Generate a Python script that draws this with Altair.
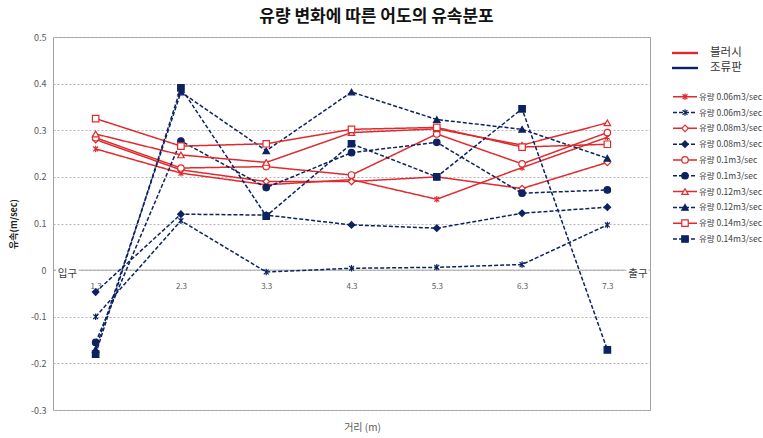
import altair as alt
import pandas as pd

# ---------------- data ----------------
dist = ["1.3", "2.3", "3.3", "4.3", "5.3", "6.3", "7.3"]

# 블러시 (red, solid)
blush_006 = [0.260, 0.208, 0.183, 0.194, 0.152, 0.220, 0.285]
blush_008 = [0.280, 0.215, 0.190, 0.190, 0.200, 0.175, 0.231]
blush_010 = [0.284, 0.219, 0.222, 0.204, 0.292, 0.228, 0.295]
blush_012 = [0.292, 0.247, 0.231, 0.295, 0.303, 0.268, 0.316]
blush_014 = [0.325, 0.266, 0.271, 0.302, 0.306, 0.264, 0.270]

# 조류판 (navy, dashed)
plate_006 = [-0.100, 0.106, -0.004, 0.004, 0.006, 0.012, 0.097]
plate_008 = [-0.047, 0.120, 0.118, 0.097, 0.090, 0.122, 0.135]
plate_010 = [-0.155, 0.277, 0.177, 0.252, 0.274, 0.165, 0.172]
plate_012 = [-0.170, 0.382, 0.256, 0.382, 0.323, 0.302, 0.240]
plate_014 = [-0.180, 0.391, 0.116, 0.271, 0.200, 0.346, -0.171]

series_ids = ["r006", "b006", "r008", "b008", "r010", "b010", "r012", "b012", "r014", "b014"]
series_labels = ["유량 0.06m3/sec", "유량 0.06m3/sec", "유량 0.08m3/sec", "유량 0.08m3/sec",
                 "유량 0.1m3/sec", "유량 0.1m3/sec", "유량 0.12m3/sec", "유량 0.12m3/sec",
                 "유량 0.14m3/sec", "유량 0.14m3/sec"]
series_values = [blush_006, plate_006, blush_008, plate_008, blush_010, plate_010,
                 blush_012, plate_012, blush_014, plate_014]
groups = ["블러시", "조류판"]
end_labels = ["입구", "출구"]

# ---------------- styles ----------------
RED = "#E02A2E"
NAVY = "#0D2260"
STAR = "M-0.75,-0.75L0.75,0.75M-0.75,0.75L0.75,-0.75M0,-1L0,1"
FONT = "Noto Sans CJK KR"

rows = []
for sid, vals in zip(series_ids, series_values):
    for d, v in zip(dist, vals):
        rows.append({"sid": sid, "dist": d, "value": v})
df = pd.DataFrame(rows)
legend_df = pd.DataFrame({"sid": series_ids, "label": series_labels})
group_df = pd.DataFrame({"group": groups})
end_df = pd.DataFrame({"t": end_labels, "v": [0, 0]})

color_scale = alt.Scale(domain=series_ids, range=[RED, NAVY] * 5)
dash_scale = alt.Scale(domain=series_ids, range=[[1, 0], [4, 2]] * 5)
shape_scale = alt.Scale(domain=series_ids, range=[STAR, STAR, "diamond", "diamond", "circle", "circle",
                                                   "triangle-up", "triangle-up", "square", "square"])
fill_scale = alt.Scale(domain=series_ids, range=["transparent", "transparent", "white", NAVY, "white", NAVY,
                                                  "white", NAVY, "white", NAVY])
size_scale = alt.Scale(domain=series_ids, range=[42, 42, 24, 24, 36, 36, 38, 38, 44, 44])

W, H = 597, 373
x_scale = alt.Scale(domain=dist, type="point", padding=0.5)
y_scale = alt.Scale(domain=[-0.3, 0.5], nice=False, zero=False)

x_axis = alt.Axis(title="거리 (m)", labelAngle=0, labelPadding=-128, ticks=False, tickSize=0,
                  domain=False, grid=False, labelFontSize=8, labelColor="#595959",
                  titleFontSize=10, titleFontWeight="normal", titleColor="#595959",
                  titleX=309, titleY=12)
y_axis = alt.Axis(values=[-0.3, -0.2, -0.1, 0, 0.1, 0.2, 0.3, 0.4, 0.5],
                  labelExpr="toString(round(datum.value*10)/10)",
                  grid=True, gridDash=[2, 2], gridColor="#B4B4B4", ticks=False, domain=False,
                  labelFontSize=9, labelColor="#595959", labelPadding=7,
                  title="유속(m/sec)", titleFontSize=9, titleFontWeight="bold", titleColor="#222222",
                  titleX=-40, titleY=H / 2, titleAngle=270, titleAlign="center", titleBaseline="middle")

base = alt.Chart(df)

lines = base.mark_line(strokeWidth=1.5).encode(
    x=alt.X("dist:O", scale=x_scale, axis=x_axis),
    y=alt.Y("value:Q", scale=y_scale, axis=y_axis),
    color=alt.Color("sid:N", scale=color_scale, legend=None),
    strokeDash=alt.StrokeDash("sid:N", scale=dash_scale, legend=None),
    order=alt.Order("dist:O"),
)

points = base.mark_point(opacity=1, strokeWidth=1.2).encode(
    x=alt.X("dist:O", scale=x_scale, axis=None),
    y=alt.Y("value:Q", scale=y_scale, axis=None),
    stroke=alt.Stroke("sid:N", scale=color_scale, legend=None),
    fill=alt.Fill("sid:N", scale=fill_scale, legend=None),
    shape=alt.Shape("sid:N", scale=shape_scale, legend=None),
    size=alt.Size("sid:N", scale=size_scale, legend=None),
)

zero_rule = alt.Chart(pd.DataFrame({"z": [0]})).mark_rule(color="#A6A6A6", strokeWidth=1).encode(
    y=alt.Y("z:Q", scale=y_scale, axis=None)
)

end_x = alt.X("t:N", scale=alt.Scale(domain=end_labels, range=[14.5, 585], type="point", padding=0), axis=None)
end_halo = alt.Chart(end_df).mark_text(fontSize=10.5, stroke="white", strokeWidth=5, color="white",
                                       baseline="middle", dy=4).encode(
    x=end_x, y=alt.Y("v:Q", scale=y_scale, axis=None), text="t:N")
end_text = alt.Chart(end_df).mark_text(fontSize=10.5, color="#404040", baseline="middle", dy=4).encode(
    x=end_x, y=alt.Y("v:Q", scale=y_scale, axis=None), text="t:N")

# ---------------- legends ----------------
g_y = alt.Y("group:N", scale=alt.Scale(domain=groups, range=[16, 31], type="point", padding=0), axis=None)
g_color = alt.Color("group:N", scale=alt.Scale(domain=groups, range=[RED, NAVY]), legend=None)
g_rule = alt.Chart(group_df).mark_rule(strokeWidth=2.4).encode(
    y=g_y, x=alt.value(619), x2=alt.value(645), color=g_color)
g_text = alt.Chart(group_df).mark_text(align="left", baseline="middle", fontSize=11.5, color="#333333").encode(
    y=g_y, x=alt.value(657), text="group:N")

l_y = alt.Y("sid:N", scale=alt.Scale(domain=series_ids, range=[59.7, 202], type="point", padding=0), axis=None)
l_rule = alt.Chart(legend_df).mark_rule(strokeWidth=1.5).encode(
    y=l_y, x=alt.value(620), x2=alt.value(644),
    color=alt.Color("sid:N", scale=color_scale, legend=None),
    strokeDash=alt.StrokeDash("sid:N", scale=dash_scale, legend=None))
l_point = alt.Chart(legend_df).mark_point(opacity=1, strokeWidth=1.2).encode(
    y=l_y, x=alt.value(632),
    stroke=alt.Stroke("sid:N", scale=color_scale, legend=None),
    fill=alt.Fill("sid:N", scale=fill_scale, legend=None),
    shape=alt.Shape("sid:N", scale=shape_scale, legend=None),
    size=alt.Size("sid:N", scale=size_scale, legend=None))
l_text = alt.Chart(legend_df).mark_text(align="left", baseline="middle", fontSize=8.5, color="#404040").encode(
    y=l_y, x=alt.value(646), text="label:N")

chart = alt.layer(
    zero_rule, lines, points, end_halo, end_text,
    g_rule, g_text, l_rule, l_point, l_text,
).resolve_scale(
    x="independent", y="independent", color="independent", stroke="independent",
    fill="independent", shape="independent", size="independent", strokeDash="independent",
).properties(
    width=W, height=H,
    padding={"left": 53, "top": 37, "right": 113, "bottom": 28},
    autosize=alt.AutoSizeParams(type="none"),
    title=alt.TitleParams("유량 변화에 따른 어도의 유속분포", fontSize=17, fontWeight="bold",
                          anchor="middle", frame="group", dx=25, offset=7, color="#111111"),
).configure(font=FONT).configure_view(stroke="#A0A0A0", strokeWidth=1)

chart.save("out.html", embed_options={"renderer": "svg", "actions": False})
